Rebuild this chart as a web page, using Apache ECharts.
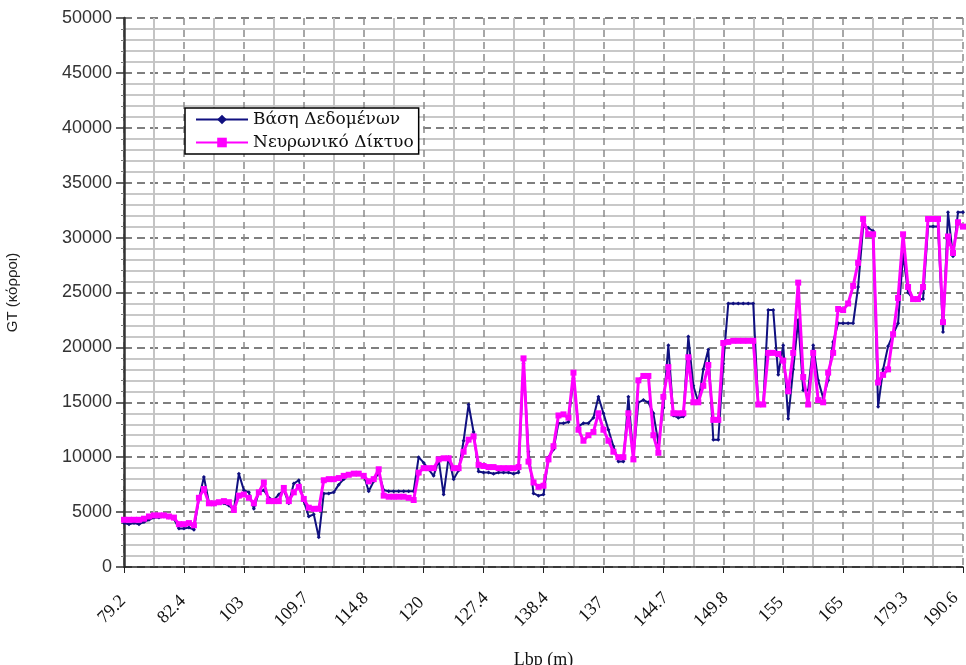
<!DOCTYPE html>
<html>
<head>
<meta charset="utf-8">
<script src="https://cdn.jsdelivr.net/npm/echarts@6/dist/echarts.min.js"></script>
<style>
html,body{margin:0;padding:0;background:#fff;}
#chart{width:966px;height:665px;}
</style>
</head>
<body>
<div id="chart"></div>
<script>
// Tick labels along the Lbp axis (one every 12 samples)
const xLabels = ['79.2','82.4','103','109.7','114.8','120','127.4','138.4','137','144.7','149.8','155','165','179.3','190.6'];
const seriesNames = ['Βάση Δεδομένων', 'Νευρωνικό Δίκτυο'];

// Database GT values
const database = [
 4000,3900,4000,3900,4100,4300,4500,4500,4600,4500,4400,3500,
 3500,3600,3400,6200,8200,5900,5700,5800,5800,5600,5200,8500,
 7000,6800,5300,6800,7000,6300,6100,6600,7000,5800,7600,7900,
 6000,4600,4800,2700,6700,6700,6800,7500,8000,8400,8500,8500,
 8400,6900,7800,8600,7000,6900,6900,6900,6900,6900,6900,10000,
 9500,8900,8300,9800,6600,10000,8000,8800,11500,14800,12300,8700,
 8600,8600,8500,8600,8600,8600,8500,8600,18500,10500,6700,6500,
 6600,10000,10700,13100,13100,13200,17200,12800,13100,13100,13600,15500,
 14000,12500,11000,9600,9600,15500,10000,15000,15200,15000,14000,11300,
 14500,20200,13800,13600,13700,21000,16500,15000,18000,19800,11600,11600,
 18500,24000,24000,24000,24000,24000,24000,14800,14800,23400,23400,17500,
 20200,13500,18000,22500,16100,16100,20200,17000,15400,17000,20500,22200,
 22200,22200,22200,25500,31000,30900,30600,14600,18000,20100,21200,22200,
 28500,25000,24400,24400,24400,31000,31000,31000,21400,32300,28300,32300,
 32300
];

// Neural network GT values
const network = [
 4300,4300,4300,4300,4400,4600,4700,4700,4700,4600,4500,3900,
 3900,4000,3800,6300,7100,5800,5800,5900,6000,5900,5200,6500,
 6600,6300,5800,6800,7700,6000,6000,6000,7200,6000,6800,7300,
 6200,5400,5300,5300,7900,8000,8000,8100,8300,8400,8500,8500,
 8300,7800,8000,8900,6500,6400,6400,6400,6400,6300,6100,8600,
 9000,9000,9000,9800,9900,9900,9000,9000,10500,11600,11900,9300,
 9200,9100,9100,9000,9000,9000,9000,9100,19000,9600,7700,7300,
 7400,9800,11000,13800,13900,13600,17700,12500,11500,12000,12300,14000,
 12500,11500,10500,10000,10000,14000,9800,17000,17400,17400,12000,10400,
 15500,18200,14000,14000,14000,19100,15000,15000,16500,18400,13400,13400,
 20400,20500,20600,20600,20600,20600,20600,14800,14800,19500,19500,19400,
 18800,16000,19500,25900,17300,14800,19500,15200,15000,17700,19500,23500,
 23400,24000,25600,27700,31700,30300,30300,16800,17500,18000,21200,24500,
 30300,25500,24400,24400,25500,31700,31700,31700,22300,30100,28600,31400,
 31000
];

const chart = echarts.init(document.getElementById('chart'), null, {renderer:'canvas'});
const serif = '"Liberation Serif", "DejaVu Serif", serif';
const wideSerif = '"DejaVu Serif", "Liberation Serif", serif';
const sans = '"Liberation Sans", Arial, sans-serif';
const tickFont = { fontFamily: serif, fontSize: 18, color: '#111' };

chart.setOption({
  animation: false,
  backgroundColor: '#ffffff',
  grid: { left: 124, right: 3, top: 18, bottom: 98, containLabel: false, outerBoundsMode: 'none' },
  legend: {
    orient: 'vertical',
    left: 185, top: 108,
    padding: [3, 5, 3, 10],
    itemGap: 6,
    itemWidth: 52, itemHeight: 12,
    backgroundColor: '#ffffff',
    borderColor: '#000000', borderWidth: 1.5,
    textStyle: { fontFamily: wideSerif, fontSize: 17, color: '#111' },
    data: seriesNames
  },
  xAxis: {
    type: 'value',
    min: 0, max: (xLabels.length - 1) * 12, interval: 12,
    name: 'Lbp (m)', nameLocation: 'middle', nameGap: 84,
    nameTextStyle: { fontFamily: serif, fontSize: 18, color: '#111' },
    axisLine: { show: true, lineStyle: { color: '#222', width: 1.5 } },
    axisTick: { show: true, length: 6, lineStyle: { color: '#222' } },
    axisLabel: {
      rotate: 45, margin: 22, align: 'center', verticalAlign: 'middle',
      fontFamily: serif, fontSize: 18, color: '#111',
      formatter: v => {
        const k = Math.round(v / 12);
        const t = xLabels[k];
        if (!t) return '';
        return k === xLabels.length - 1 ? '{l|' + t + '}' : '{n|' + t + '}';
      },
      rich: {
        n: Object.assign({ padding: [12, 46, 0, 0] }, tickFont),
        l: Object.assign({ padding: [0, 60, 2, 0] }, tickFont)
      }
    },
    splitLine: { show: true, lineStyle: { color: '#8a8a8a', width: 1.5, type: [7, 5] } },
    minorTick: { show: false, splitNumber: 2 },
    minorSplitLine: { show: true, lineStyle: { color: '#c4c4c4', width: 2 } }
  },
  yAxis: {
    type: 'value',
    min: 0, max: 50000, interval: 5000,
    name: 'GT (κόρροι)', nameLocation: 'middle', nameGap: 104, nameRotate: 90,
    nameTextStyle: { fontFamily: sans, fontSize: 15, color: '#222' },
    axisLine: { show: true, lineStyle: { color: '#333', width: 2.5 } },
    axisTick: { show: true, length: 8, lineStyle: { color: '#333', width: 1.5 } },
    axisLabel: { fontFamily: sans, fontSize: 18, color: '#333', margin: 12, formatter: v => String(v) },
    splitLine: { show: true, lineStyle: { color: '#555', width: 1.5, type: [8, 5] } },
    minorTick: { show: true, splitNumber: 5, length: 3, lineStyle: { color: '#777' } },
    minorSplitLine: { show: true, lineStyle: { color: '#c8c8c8', width: 2 } }
  },
  series: [
    {
      name: seriesNames[0],
      type: 'line',
      data: database.map((v, i) => [i, v]),
      symbol: 'diamond', symbolSize: 4, showAllSymbol: true,
      lineStyle: { color: '#101080', width: 2 },
      itemStyle: { color: '#101080' },
      z: 3
    },
    {
      name: seriesNames[1],
      type: 'line',
      data: network.map((v, i) => [i, v]),
      symbol: 'rect', symbolSize: 6, showAllSymbol: true,
      lineStyle: { color: '#ff00ff', width: 3 },
      itemStyle: { color: '#ff00ff' },
      z: 4
    }
  ]
});
</script>
</body>
</html>
